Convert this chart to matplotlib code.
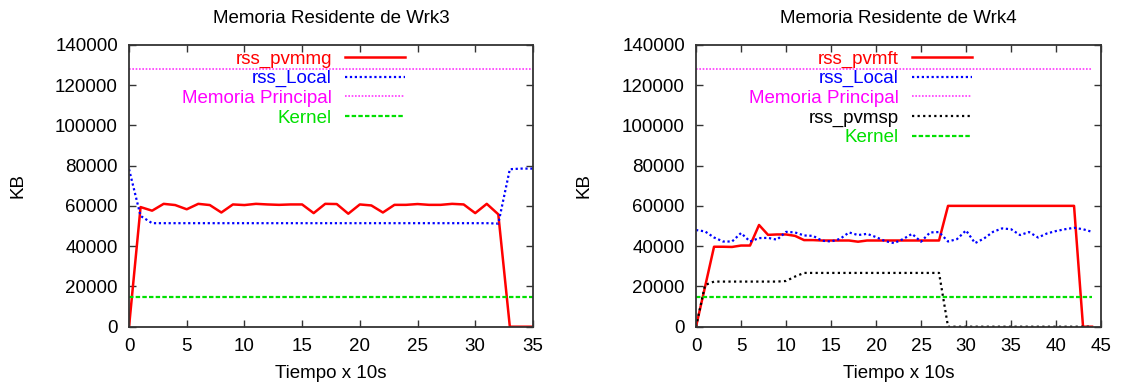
import matplotlib
matplotlib.use("Agg")
import matplotlib.pyplot as plt

plt.rcParams['font.family'] = ['Liberation Sans', 'DejaVu Sans']

# Wrk3 data
t_wrk3 = list(range(36))
pvmmg = [0, 59400, 57600, 61000, 60400, 58300, 61000, 60400, 56700, 60700,
         60400, 61000, 60700, 60500, 60700, 60700, 56400, 61000, 60900, 56100,
         60700, 60200, 56700, 60500, 60500, 60900, 60500, 60500, 61000, 60700,
         56400, 61000, 55800, 0, 0, 0]
local_wrk3 = [78200, 55000, 51400, 51400, 51400, 51400, 51400, 51400, 51400, 51400,
              51400, 51400, 51400, 51400, 51400, 51400, 51400, 51400, 51400, 51400,
              51400, 51400, 51400, 51400, 51400, 51400, 51400, 51400, 51400, 51400,
              51400, 51400, 51200, 78200, 78500, 78500]

# Wrk4 data
t_wrk4 = list(range(45))
pvmft = [0, 19800, 39700, 39700, 39600, 40300, 40300, 50500, 45600, 45800,
         45800, 45100, 43000, 43000, 42800, 42800, 42800, 42800, 42200, 42800,
         42800, 42800, 42800, 42800, 42800, 42800, 42800, 42800, 60000, 60000,
         60000, 60000, 60000, 60000, 60000, 60000, 60000, 60000, 60000, 60000,
         60000, 60000, 60000, 0, 0]
local_wrk4 = [48000, 47300, 44300, 42300, 42300, 46500, 42300, 44000, 44100, 43200,
              47100, 46800, 45300, 45100, 42700, 42300, 43600, 46800, 45500, 46100,
              44500, 42500, 41500, 43500, 46100, 42200, 46800, 47000, 42300, 43500,
              47800, 41500, 43800, 47100, 48800, 48400, 45500, 47000, 44300, 46300,
              47500, 48400, 49100, 48400, 47100]
pvmsp = [0, 20700, 22400, 22400, 22400, 22400, 22400, 22400, 22400, 22400,
         22700, 24900, 26700, 26700, 26700, 26700, 26700, 26700, 26700, 26700,
         26700, 26700, 26700, 26700, 26700, 26700, 26700, 26700, 0, 0,
         0, 0, 0, 0, 0, 0, 0, 0, 0, 0,
         0, 0, 0, 0, 0]

mem_principal = 128000
kernel = 14600

FS = 13.5


def style_axes(ax, xmax, xstep, title):
    ax.set_xlim(0, xmax)
    ax.set_ylim(0, 140000)
    ax.set_xticks(range(0, xmax + 1, xstep))
    ax.set_yticks(range(0, 140001, 20000))
    ax.tick_params(direction='in', top=True, right=True, length=5, width=1,
                   labelsize=FS, pad=8, colors='#333333', labelcolor='black')
    for s in ax.spines.values():
        s.set_linewidth(1.3)
        s.set_color('#333333')
    ax.set_xlabel('Tiempo x 10s', fontsize=FS, va='top')
    ax.xaxis.set_label_coords(0.5, -0.135)
    ax.set_ylabel('KB', fontsize=FS, va='center')
    ax.yaxis.set_label_coords(-0.276, 0.5)
    ax.set_title(title, fontsize=FS, y=1.078, pad=0)


def add_legend(ax, xanchor):
    ax.legend(loc='upper right', bbox_to_anchor=(xanchor, 0.98), markerfirst=False,
              frameon=False, fontsize=FS, labelcolor='linecolor', handlelength=3.2,
              borderpad=0, borderaxespad=0, labelspacing=0.13, handletextpad=0.7)


fig = plt.figure(figsize=(11.25, 3.9), dpi=100)
ax1 = fig.add_axes([0.1147, 0.1623, 0.359, 0.723])
ax2 = fig.add_axes([0.6187, 0.1623, 0.36, 0.723])

# left panel
ax1.plot(t_wrk3, pvmmg, color='red', lw=1.8, label='rss_pvmmg')
ax1.plot(t_wrk3, local_wrk3, color='blue', lw=1.6, ls=(0, (1, 1.2)), label='rss_Local')
ax1.plot([0, 35], [mem_principal, mem_principal], color='magenta', lw=1.2,
         ls=(0, (1, 1)), alpha=0.8, label='Memoria Principal')
ax1.plot([0, 35], [kernel, kernel], color='#00e000', lw=1.6, ls=(0, (2, 1)), label='Kernel')
style_axes(ax1, 35, 5, 'Memoria Residente de Wrk3')
add_legend(ax1, 0.683)

# right panel
ax2.plot(t_wrk4, pvmft, color='red', lw=1.8, label='rss_pvmft')
ax2.plot(t_wrk4, local_wrk4, color='blue', lw=1.6, ls=(0, (1, 1.2)), label='rss_Local')
ax2.plot([0, 44], [mem_principal, mem_principal], color='magenta', lw=1.2,
         ls=(0, (1, 1)), alpha=0.8, label='Memoria Principal')
ax2.plot(t_wrk4, pvmsp, color='black', lw=1.6, ls=(0, (1, 1.5)), label='rss_pvmsp')
ax2.plot([0, 44], [kernel, kernel], color='#00e000', lw=1.6, ls=(0, (2, 1)), label='Kernel')
style_axes(ax2, 45, 5, 'Memoria Residente de Wrk4')
add_legend(ax2, 0.681)

fig.savefig('out.png', dpi=100)
